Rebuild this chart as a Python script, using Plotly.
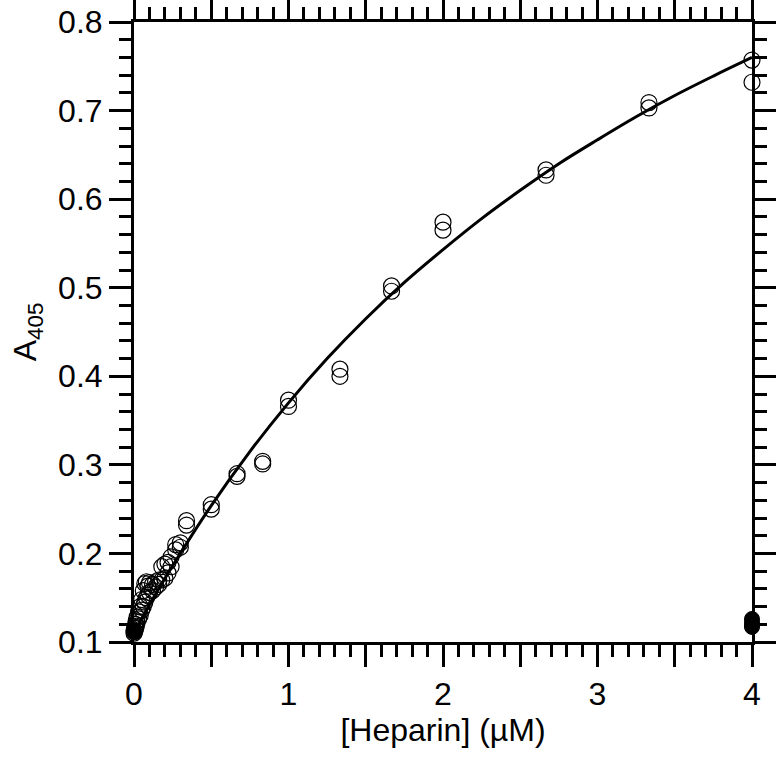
import plotly.graph_objects as go

# Open circles: measured A405 vs [Heparin]
heparin_open = [0, 0, 0.005, 0.005, 0.01, 0.01, 0.015, 0.015, 0.02, 0.02, 0.03, 0.03,
                0.04, 0.04, 0.05, 0.05, 0.06, 0.06, 0.07, 0.07, 0.08, 0.08, 0.09, 0.09,
                0.1, 0.1, 0.12, 0.12, 0.14, 0.14, 0.16, 0.16, 0.18, 0.18, 0.2, 0.2,
                0.22, 0.22, 0.24, 0.24, 0.27, 0.27, 0.3, 0.3, 0.34, 0.34, 0.5, 0.5,
                0.667, 0.667, 0.833, 0.833, 1.0, 1.0, 1.333, 1.333, 1.667, 1.667,
                2.0, 2.0, 2.667, 2.667, 3.333, 3.333, 4.0, 4.0]
a405_open = [0.110, 0.113, 0.112, 0.116, 0.115, 0.120, 0.118, 0.124, 0.122, 0.128, 0.126, 0.134,
             0.130, 0.140, 0.136, 0.148, 0.140, 0.158, 0.145, 0.166, 0.150, 0.168, 0.153, 0.163,
             0.156, 0.167, 0.158, 0.165, 0.162, 0.168, 0.165, 0.170, 0.170, 0.185, 0.172, 0.188,
             0.178, 0.190, 0.185, 0.196, 0.204, 0.210, 0.207, 0.212, 0.232, 0.237, 0.250, 0.255,
             0.287, 0.290, 0.301, 0.304, 0.366, 0.373, 0.400, 0.408, 0.496, 0.502,
             0.565, 0.574, 0.627, 0.633, 0.703, 0.709, 0.732, 0.757]

# Filled circles (controls)
heparin_filled = [0, 0.005, 4.0, 4.0, 4.0, 4.0]
a405_filled = [0.111, 0.113, 0.117, 0.119, 0.122, 0.126]

# Fitted curve
fit_x = [0, 0.1, 0.25, 0.5, 0.75, 1.0, 1.25, 1.5, 1.75, 2.0, 2.25, 2.5, 2.75,
         3.0, 3.25, 3.5, 3.75, 4.0]
fit_y = [0.110, 0.142, 0.186, 0.254, 0.315, 0.370, 0.420, 0.465, 0.506, 0.543, 0.578,
         0.610, 0.640, 0.667, 0.693, 0.717, 0.739, 0.760]

x_tickvals = [0, 0.5, 1, 1.5, 2, 2.5, 3, 3.5, 4]
x_ticktext = ["0", "", "1", "", "2", "", "3", "", "4"]
y_tickvals = [0.1, 0.2, 0.3, 0.4, 0.5, 0.6, 0.7, 0.8]
y_ticktext = ["0.1", "0.2", "0.3", "0.4", "0.5", "0.6", "0.7", "0.8"]

FONT = "Liberation Sans, Arial, sans-serif"
FS = 32

fig = go.Figure()
fig.add_trace(go.Scatter(
    x=fit_x, y=fit_y, mode="lines", line=dict(color="black", width=3, shape="spline"),
    hoverinfo="skip", showlegend=False))
fig.add_trace(go.Scatter(
    x=heparin_open, y=a405_open, mode="markers", cliponaxis=False,
    marker=dict(symbol="circle", size=16, color="rgba(0,0,0,0)",
                line=dict(color="black", width=1.2)),
    showlegend=False))
fig.add_trace(go.Scatter(
    x=heparin_filled, y=a405_filled, mode="markers", cliponaxis=False,
    marker=dict(symbol="circle", size=15, color="black",
                line=dict(color="black", width=1)),
    showlegend=False))

axis_common = dict(
    showline=True, linecolor="black", linewidth=3, mirror="ticks",
    ticks="outside", ticklen=22, tickwidth=2.5, tickcolor="black",
    showgrid=False, zeroline=False, automargin=False, ticklabeloverflow="allow",
    tickfont=dict(family=FONT, size=FS, color="black"),
)

fig.update_xaxes(
    range=[0, 4], tickmode="array", tickvals=x_tickvals, ticktext=x_ticktext,
    minor=dict(ticks="outside", ticklen=12, tickwidth=2.5, tickcolor="black", dtick=0.1, tick0=0),
    title=dict(text="[Heparin] (µM)", font=dict(family=FONT, size=FS, color="black"), standoff=0),
    **axis_common)
fig.update_yaxes(
    range=[0.1, 0.8], tickmode="array", tickvals=y_tickvals, ticktext=y_ticktext,
    minor=dict(ticks="outside", ticklen=12, tickwidth=2.5, tickcolor="black", dtick=0.02, tick0=0.1),
    title=dict(text="A<sub>405</sub>", font=dict(family=FONT, size=FS, color="black"), standoff=12),
    **axis_common)

fig.update_layout(
    width=776, height=768,
    margin=dict(l=134, r=24, t=22, b=126, autoexpand=False),
    plot_bgcolor="white", paper_bgcolor="white",
)

fig.write_html("out.html", config={"displayModeBar": False},
               post_script="document.body.style.margin='0';document.body.style.overflow='hidden';")
